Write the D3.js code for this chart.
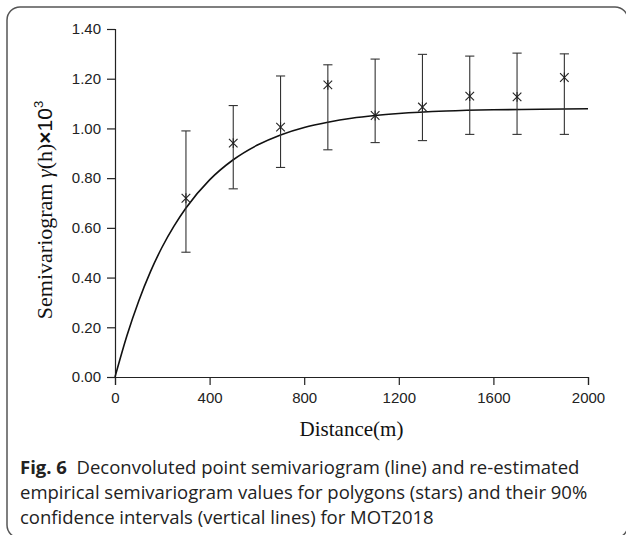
<!DOCTYPE html>
<html><head><meta charset="utf-8">
<script src="https://cdn.jsdelivr.net/npm/d3@7"></script>
<style>html,body{margin:0;padding:0;background:#fff;}</style>
</head><body>
<script>
// ---- data ----
const distances = [300, 500, 700, 900, 1100, 1300, 1500, 1700, 1900];
const empirical = [0.719, 0.941, 1.005, 1.175, 1.052, 1.086, 1.130, 1.127, 1.205];
const ciLow     = [0.502, 0.757, 0.843, 0.914, 0.943, 0.951, 0.976, 0.976, 0.976];
const ciHigh    = [0.990, 1.092, 1.211, 1.256, 1.279, 1.298, 1.291, 1.303, 1.300];
const modelDist = [0, 50, 100, 150, 200, 250, 300, 400, 500, 600, 700, 800, 900, 1000, 1100, 1200, 1400, 1600, 1800, 2000];
const modelVal  = [0, 0.165, 0.305, 0.424, 0.524, 0.608, 0.680, 0.793, 0.874, 0.932, 0.974, 1.004, 1.025, 1.041, 1.052, 1.060, 1.070, 1.075, 1.077, 1.079];
const xTicks = [0, 400, 800, 1200, 1600, 2000];
const yTicks = [0, 0.2, 0.4, 0.6, 0.8, 1.0, 1.2, 1.4];

const W = 626, H = 535;
const svg = d3.select("body").append("svg").attr("width", W).attr("height", H);

// frame
svg.append("rect").attr("x", 7).attr("y", 7).attr("width", 621).attr("height", 531)
  .attr("rx", 13).attr("fill", "none").attr("stroke", "#555").attr("stroke-width", 1.5);

const x = d3.scaleLinear().domain([0, 2000]).range([115, 588]);
const y = d3.scaleLinear().domain([0, 1.4]).range([377, 29]);

const ink = "#222";
const xAxis = svg.append("g").attr("transform", `translate(0,${y(0)})`)
  .call(d3.axisBottom(x).tickValues(xTicks).tickFormat(d3.format("d")).tickSizeOuter(0).tickSize(8).tickPadding(7));
const yAxis = svg.append("g").attr("transform", `translate(${x(0)},0)`)
  .call(d3.axisLeft(y).tickValues(yTicks).tickFormat(d3.format(".2f")).tickSizeOuter(0).tickSize(8).tickPadding(6));
[xAxis, yAxis].forEach(g => {
  g.selectAll("path,line").attr("stroke", ink).attr("stroke-width", 1.2);
  g.selectAll("text").attr("fill", ink).style("font-family", "Liberation Sans, Arial, sans-serif").style("font-size", "15px");
});

// model curve
const line = d3.line().x((d, i) => x(modelDist[i])).y((d, i) => y(modelVal[i])).curve(d3.curveMonotoneX);
svg.append("path").datum(modelVal).attr("d", line).attr("fill", "none").attr("stroke", "#111").attr("stroke-width", 1.6);

// error bars
const cap = 4.6;
const eb = svg.append("g").attr("stroke", "#333").attr("stroke-width", 1.1);
distances.forEach((d, i) => {
  const cx = x(d);
  eb.append("line").attr("x1", cx).attr("x2", cx).attr("y1", y(ciLow[i])).attr("y2", y(ciHigh[i]));
  eb.append("line").attr("x1", cx - cap).attr("x2", cx + cap).attr("y1", y(ciLow[i])).attr("y2", y(ciLow[i]));
  eb.append("line").attr("x1", cx - cap).attr("x2", cx + cap).attr("y1", y(ciHigh[i])).attr("y2", y(ciHigh[i]));
});

// star markers
const st = svg.append("g").attr("stroke", "#222").attr("stroke-width", 1.1);
const r = 4.3;
distances.forEach((d, i) => {
  const cx = x(d), cy = y(empirical[i]);
  st.append("line").attr("x1", cx - r).attr("x2", cx + r).attr("y1", cy - r).attr("y2", cy + r);
  st.append("line").attr("x1", cx - r).attr("x2", cx + r).attr("y1", cy + r).attr("y2", cy - r);
  st.append("line").attr("x1", cx).attr("x2", cx).attr("y1", cy - r * 1.15).attr("y2", cy + r * 1.15);
});

// axis titles
svg.append("text").attr("x", x(1000)).attr("y", 436).attr("text-anchor", "middle")
  .style("font-family", "Liberation Serif, Times New Roman, serif").style("font-size", "21px").attr("fill", "#111")
  .text("Distance(m)");

const yt = svg.append("text").attr("transform", "translate(52,210) rotate(-90)").attr("text-anchor", "middle")
  .attr("fill", "#111");
const serif = "Liberation Serif, Times New Roman, serif", sans = "Liberation Sans, Arial, sans-serif";
yt.append("tspan").style("font-family", serif).style("font-size", "22px").text("Semivariogram ");
yt.append("tspan").style("font-family", serif).style("font-size", "22px").style("font-style", "italic").text("γ");
yt.append("tspan").style("font-family", serif).style("font-size", "22px").text("(h)");
yt.append("tspan").style("font-family", sans).style("font-size", "21px").style("font-weight", "bold").text("×");
yt.append("tspan").style("font-family", sans).style("font-size", "21px").text("10");
yt.append("tspan").style("font-family", sans).style("font-size", "13px").attr("dy", -9).text("3");

// caption
const capLines = [
  ["Fig. 6", "  Deconvoluted point semivariogram (line) and re-estimated"],
  [null, "empirical semivariogram values for polygons (stars) and their 90%"],
  [null, "confidence intervals (vertical lines) for MOT2018"]
];
const capY = [474, 499, 524];
capLines.forEach((l, i) => {
  const t = svg.append("text").attr("x", 20).attr("y", capY[i])
    .style("font-family", "Open Sans, sans-serif").style("font-size", "18.5px").attr("fill", "#222")
    .attr("xml:space", "preserve").style("white-space", "pre");
  if (l[0]) t.append("tspan").style("font-weight", "bold").text(l[0]);
  t.append("tspan").text(l[1]);
});
</script>
</body></html>
